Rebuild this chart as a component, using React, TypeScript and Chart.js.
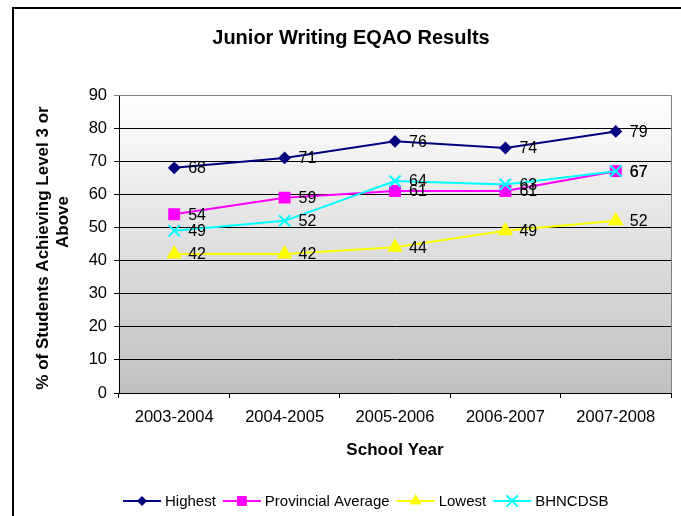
import React, { useEffect, useRef } from "react";
import { Chart, registerables } from "chart.js";

Chart.register(...registerables);

const categories = ["2003-2004", "2004-2005", "2005-2006", "2006-2007", "2007-2008"];
const highest = [68, 71, 76, 74, 79];
const provincial = [54, 59, 61, 61, 67];
const lowest = [42, 42, 44, 49, 52];
const bhncdsb = [49, 52, 64, 63, 67];
const seriesNames = ["Highest", "Provincial Average", "Lowest", "BHNCDSB"];

const FONT = "'Liberation Sans', Arial, sans-serif";

export default function App() {
  const ref = useRef<HTMLCanvasElement | null>(null);

  useEffect(() => {
    if (!ref.current) return;

    function drawMarker(ctx: any, style: string, r: number, cx: number, cy: number, color: string) {
      ctx.save();
      ctx.fillStyle = color;
      ctx.strokeStyle = color;
      ctx.lineWidth = 2;
      ctx.beginPath();
      if (style === "rectRot") {
        ctx.moveTo(cx - r, cy);
        ctx.lineTo(cx, cy - r);
        ctx.lineTo(cx + r, cy);
        ctx.lineTo(cx, cy + r);
        ctx.closePath();
        ctx.fill();
      } else if (style === "rect") {
        const s = r * Math.SQRT1_2;
        ctx.rect(cx - s, cy - s, 2 * s, 2 * s);
        ctx.fill();
      } else if (style === "triangle") {
        ctx.moveTo(cx, cy - r);
        ctx.lineTo(cx + r * 0.866, cy + r / 2);
        ctx.lineTo(cx - r * 0.866, cy + r / 2);
        ctx.closePath();
        ctx.fill();
      } else {
        const s = r * Math.SQRT1_2;
        ctx.moveTo(cx - s, cy - s);
        ctx.lineTo(cx + s, cy + s);
        ctx.moveTo(cx + s, cy - s);
        ctx.lineTo(cx - s, cy + s);
        ctx.stroke();
      }
      ctx.restore();
    }

    const bgPlugin = {
      id: "bg",
      beforeDraw(chart: any) {
        const { ctx, chartArea: a } = chart;
        ctx.save();
        const g = ctx.createLinearGradient(0, a.top, 0, a.bottom);
        g.addColorStop(0, "#ffffff");
        g.addColorStop(1, "#c0c0c0");
        ctx.fillStyle = g;
        ctx.fillRect(a.left, a.top, a.right - a.left, a.bottom - a.top);
        ctx.restore();
      },
      afterDatasetsDraw(chart: any) {
        const { ctx } = chart;
        ctx.save();
        ctx.font = `16px ${FONT}`;
        ctx.fillStyle = "#000";
        ctx.textAlign = "left";
        ctx.textBaseline = "middle";
        chart.data.datasets.forEach((ds: any, i: number) => {
          const meta = chart.getDatasetMeta(i);
          meta.data.forEach((pt: any, j: number) => {
            ctx.fillText(String(ds.data[j]), pt.x + 14, pt.y + 1);
          });
        });
        ctx.restore();
      },
      afterDraw(chart: any) {
        const { ctx, chartArea: a } = chart;
        ctx.save();
        ctx.strokeStyle = "#808080";
        ctx.lineWidth = 1;
        ctx.beginPath();
        ctx.moveTo(a.left, a.top + 0.5);
        ctx.lineTo(a.right + 0.5, a.top + 0.5);
        ctx.lineTo(a.right + 0.5, a.bottom);
        ctx.stroke();
        ctx.strokeStyle = "#000";
        ctx.lineWidth = 2;
        ctx.strokeRect(13, 8, 800, 800);
        ctx.fillStyle = "#000";
        ctx.textAlign = "center";
        ctx.textBaseline = "middle";
        ctx.font = `bold 20px ${FONT}`;
        ctx.fillText("Junior Writing EQAO Results", 351, 38);
        ctx.font = `bold 17px ${FONT}`;
        ctx.fillText("School Year", 395, 450);
        ctx.save();
        ctx.translate(43, 248);
        ctx.rotate(-Math.PI / 2);
        ctx.fillText("% of Students Achieving Level 3 or", 0, 0);
        ctx.restore();
        ctx.save();
        ctx.translate(63, 222);
        ctx.rotate(-Math.PI / 2);
        ctx.fillText("Above", 0, 0);
        ctx.restore();
        ctx.font = `15px ${FONT}`;
        ctx.textAlign = "left";
        let x = 123;
        const y = 501;
        chart.data.datasets.forEach((ds: any, i: number) => {
          ctx.strokeStyle = ds.borderColor;
          ctx.lineWidth = 2;
          ctx.beginPath();
          ctx.moveTo(x, y);
          ctx.lineTo(x + 38, y);
          ctx.stroke();
          drawMarker(ctx, ds.pointStyle, ds.pointRadius, x + 19, y, ds.borderColor);
          ctx.fillStyle = "#000";
          ctx.fillText(seriesNames[i], x + 42, y + 1);
          x += 42 + ctx.measureText(seriesNames[i]).width + 7;
        });
        ctx.restore();
      },
    };

    const mk = (label: string, data: number[], color: string, style: string, r: number, order: number) => ({
      label,
      data,
      borderColor: color,
      backgroundColor: color,
      pointBackgroundColor: color,
      pointBorderColor: color,
      pointStyle: style,
      pointRadius: r,
      pointBorderWidth: 2,
      borderWidth: 2,
      tension: 0,
      order,
    });

    const chart = new Chart(ref.current, {
      type: "line",
      data: {
        labels: categories,
        datasets: [
          mk(seriesNames[0], highest, "#000080", "rectRot", 5, 3),
          mk(seriesNames[1], provincial, "#ff00ff", "rect", 7, 2),
          mk(seriesNames[2], lowest, "#ffff00", "triangle", 7, 1),
          mk(seriesNames[3], bhncdsb, "#00ffff", "crossRot", 8, 0),
        ] as any,
      },
      options: {
        responsive: false,
        animation: false,
        layout: { padding: { top: 95, right: 10, bottom: 63, left: 0 } },
        plugins: { legend: { display: false }, title: { display: false }, tooltip: { enabled: false } },
        scales: {
          x: {
            offset: true,
            grid: { offset: true, drawOnChartArea: false, drawTicks: true, tickLength: 5, color: "#000" },
            border: { color: "#000" },
            ticks: { color: "#000", font: { family: FONT, size: 16.5 }, padding: 10, maxRotation: 0 },
            afterFit(scale: any) {
              scale.height = 60;
            },
          } as any,
          y: {
            min: 0,
            max: 90,
            ticks: { stepSize: 10, color: "#000", font: { family: FONT, size: 16.5 }, padding: 7 },
            grid: {
              color: (c: any) => (c.tick && c.tick.value === 90 ? "#808080" : "#000"),
              tickLength: 5,
              lineWidth: 1,
            },
            border: { color: "#000" },
            afterFit(scale: any) {
              scale.width = 119;
            },
          } as any,
        },
      },
      plugins: [bgPlugin],
    });
    return () => chart.destroy();
  }, []);

  return (
    <div style={{ position: "fixed", left: 0, top: 0, width: 681, height: 516, background: "#fff" }}>
      <canvas ref={ref} width={681} height={516} style={{ display: "block" }} />
    </div>
  );
}
